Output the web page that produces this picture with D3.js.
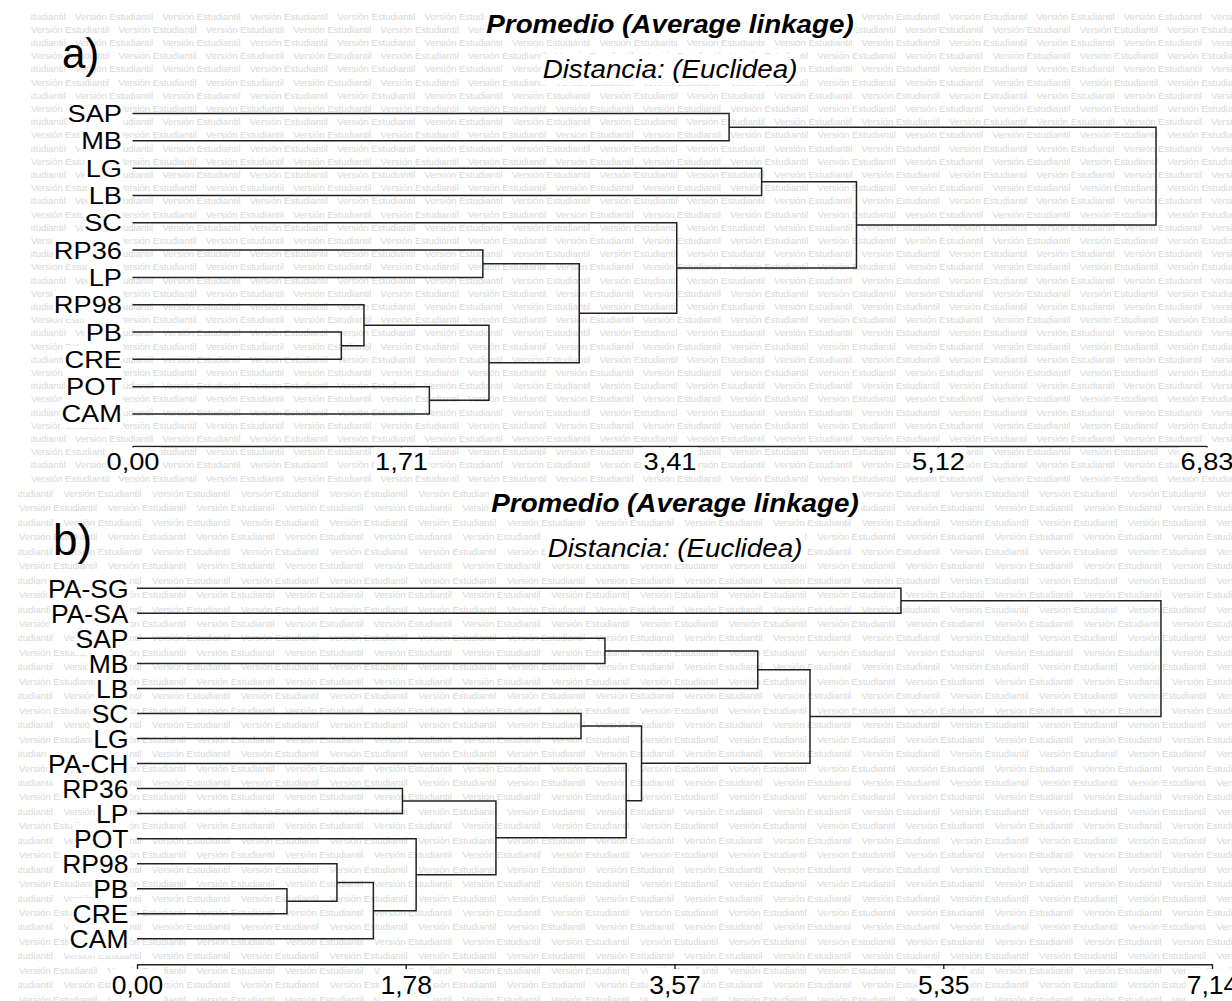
<!DOCTYPE html>
<html>
<head>
<meta charset="utf-8">
<script src="https://cdn.jsdelivr.net/npm/d3@7"></script>
<style>
  body { margin: 0; background: #fff; }
  svg { display: block; font-family: "Liberation Sans", Arial, sans-serif; }
</style>
</head>
<body>
<div id="chart"></div>
<script>
// panel a) leaves, top to bottom
const leavesA = ["SAP", "MB", "LG", "LB", "SC", "RP36", "LP", "RP98", "PB", "CRE", "POT", "CAM"];
// merges: [left, right, distance]; a number points to an earlier merge
const mergesA = [
  ["PB", "CRE", 1.328],
  ["RP98", 0, 1.472],
  ["POT", "CAM", 1.888],
  ["RP36", "LP", 2.228],
  [1, 2, 2.267],
  [3, 4, 2.841],
  ["SC", 5, 3.461],
  ["SAP", "MB", 3.794],
  ["LG", "LB", 4.001],
  [8, 6, 4.604],
  [7, 9, 6.509]
];
const ticksA = [0, 1.7075, 3.415, 5.1225, 6.83];
const tickLabelsA = ["0,00", "1,71", "3,41", "5,12", "6,83"];

// panel b)
const leavesB = ["PA-SG", "PA-SA", "SAP", "MB", "LB", "SC", "LG", "PA-CH", "RP36", "LP", "POT", "RP98", "PB", "CRE", "CAM"];
const mergesB = [
  ["PB", "CRE", 0.996],
  ["RP98", 0, 1.328],
  [1, "CAM", 1.570],
  ["RP36", "LP", 1.763],
  ["POT", 2, 1.854],
  [3, 4, 2.384],
  ["SC", "LG", 2.949],
  ["SAP", "MB", 3.108],
  ["PA-CH", 5, 3.249],
  [6, 8, 3.351],
  [7, "LB", 4.123],
  [10, 9, 4.470],
  ["PA-SG", "PA-SA", 5.074],
  [12, 11, 6.801]
];
const ticksB = [0, 1.785, 3.57, 5.355, 7.14];
const tickLabelsB = ["0,00", "1,78", "3,57", "5,35", "7,14"];

const titles = ["Promedio (Average linkage)", "Distancia: (Euclidea)"];
const watermarkText = "Versión Estudiantil";

const width = 1232, height = 1001;
const lineColor = "#222";

const svg = d3.select("#chart").append("svg")
  .attr("width", width)
  .attr("height", height);

svg.append("rect").attr("width", width).attr("height", height).attr("fill", "#fff");

const panels = [
  {
    id: "a", tag: "a)", leaves: leavesA, merges: mergesA, ticks: ticksA, tickLabels: tickLabelsA,
    xRange: [132.5, 1206.5], yRange: [113.5, 414], axisY: 446, tickSize: 4, tickPad: 3,
    labelGap: 10.5, fontSize: 23.5, stretch: 1.16,
    titleX: 670, titleY: [33, 78], tagX: 62, tagY: 68, tagSize: 42,
    wm: { x0: 31, x1: 1232, y0: 8, y1: 484, rowStart: 16, rowH: 13.2, period: 87.4, phases: [75, 31] }
  },
  {
    id: "b", tag: "b)", leaves: leavesB, merges: mergesB, ticks: ticksB, tickLabels: tickLabelsB,
    xRange: [137, 1212], yRange: [588.3, 938.8], axisY: 964.3, tickSize: 5, tickPad: 6,
    labelGap: 8.5, fontSize: 26.5, stretch: 1.0,
    titleX: 675, titleY: [511.7, 557], tagX: 53, tagY: 555, tagSize: 44,
    wm: { x0: 18, x1: 1232, y0: 484, y1: 1001, rowStart: 493.45, rowH: 14.45, period: 88.7, phases: [63.4, 19] }
  }
];

// build a d3 hierarchy from the merge list
const buildTree = (merges) => {
  const nodes = [];
  const ref = (r) => (typeof r === "number" ? nodes[r] : { name: r, dist: 0 });
  merges.forEach(([a, b, h], i) => {
    nodes[i] = { name: "n" + i, dist: h, children: [ref(a), ref(b)] };
  });
  return d3.hierarchy(nodes[nodes.length - 1]);
};

// white box behind a text, same transform as the text
const addBox = (sel, pad) => {
  sel.each(function () {
    const bb = this.getBBox();
    d3.select(this.parentNode)
      .insert("rect", () => this)
      .attr("x", bb.x - pad)
      .attr("y", bb.y - 1)
      .attr("width", bb.width + pad * 2)
      .attr("height", bb.height + 2)
      .attr("transform", d3.select(this).attr("transform"))
      .attr("fill", "#fff");
  });
};

const drawWatermark = (p) => {
  const w = p.wm;
  svg.append("clipPath")
    .attr("id", "wm-" + p.id)
    .append("rect")
    .attr("x", w.x0).attr("y", w.y0)
    .attr("width", w.x1 - w.x0).attr("height", w.y1 - w.y0);

  const g = svg.append("g")
    .attr("clip-path", `url(#wm-${p.id})`)
    .attr("fill", "#d8d8d8")
    .attr("font-size", 9.5);

  const rows = d3.range(w.rowStart, w.y1, w.rowH);
  rows.forEach((y, k) => {
    const ph = w.phases[k % 2];
    const xs = d3.range(ph - w.period, w.x1, w.period);
    g.selectAll(null)
      .data(xs)
      .join("text")
      .attr("x", (d) => d)
      .attr("y", y)
      .attr("dominant-baseline", "central")
      .text(watermarkText);
  });
};

const drawPanel = (p) => {
  const x = d3.scaleLinear().domain([0, p.ticks[p.ticks.length - 1]]).range(p.xRange);
  const y = d3.scalePoint().domain(p.leaves).range(p.yRange);

  const root = buildTree(p.merges);
  root.eachAfter((n) => {
    n.py = n.children ? d3.mean(n.children, (c) => c.py) : y(n.data.name);
  });

  const g = svg.append("g");

  // brackets
  g.append("g")
    .selectAll("path")
    .data(root.descendants().filter((n) => n.children))
    .join("path")
    .attr("fill", "none")
    .attr("stroke", lineColor)
    .attr("stroke-width", 1.5)
    .attr("d", (n) => {
      const [c1, c2] = n.children;
      return `M${x(c1.data.dist)},${c1.py}H${x(n.data.dist)}V${c2.py}H${x(c2.data.dist)}`;
    });

  // leaf labels
  const labels = g.append("g")
    .selectAll("text")
    .data(p.leaves)
    .join("text")
    .attr("transform", (d) => `translate(${x(0) - p.labelGap},${y(d)}) scale(${p.stretch},1)`)
    .attr("text-anchor", "end")
    .attr("dy", "0.36em")
    .attr("font-size", p.fontSize)
    .attr("fill", "#000")
    .text((d) => d);
  addBox(labels, 1);

  // axis
  const axis = g.append("g")
    .attr("transform", `translate(0,${p.axisY})`)
    .call(
      d3.axisBottom(x)
        .tickValues(p.ticks)
        .tickFormat((d, i) => p.tickLabels[i])
        .tickSize(p.tickSize)
        .tickSizeOuter(0)
        .tickPadding(p.tickPad)
    );
  axis.select(".domain").attr("stroke", lineColor).attr("stroke-width", 1.4);
  axis.selectAll(".tick line").attr("stroke", lineColor).attr("stroke-width", 1.4);
  const tickText = axis.selectAll(".tick text")
    .attr("font-family", "Liberation Sans, Arial, sans-serif")
    .attr("font-size", p.fontSize)
    .attr("fill", "#000")
    .attr("transform", `scale(${p.stretch},1)`);
  addBox(tickText, 1);

  // titles
  const tg = g.append("g").attr("font-style", "italic");
  const t = tg.selectAll("text")
    .data(titles)
    .join("text")
    .attr("transform", (d, i) => `translate(${p.titleX},${p.titleY[i]}) scale(1.09,1)`)
    .attr("text-anchor", "middle")
    .attr("font-size", 25.5)
    .attr("font-weight", (d, i) => (i === 0 ? "bold" : "normal"))
    .attr("fill", "#000")
    .text((d) => d);
  addBox(t, 2);

  // panel tag
  g.append("text")
    .attr("x", p.tagX)
    .attr("y", p.tagY)
    .attr("font-size", p.tagSize)
    .attr("fill", "#000")
    .text(p.tag);
};

panels.forEach(drawWatermark);
panels.forEach(drawPanel);
</script>
</body>
</html>
